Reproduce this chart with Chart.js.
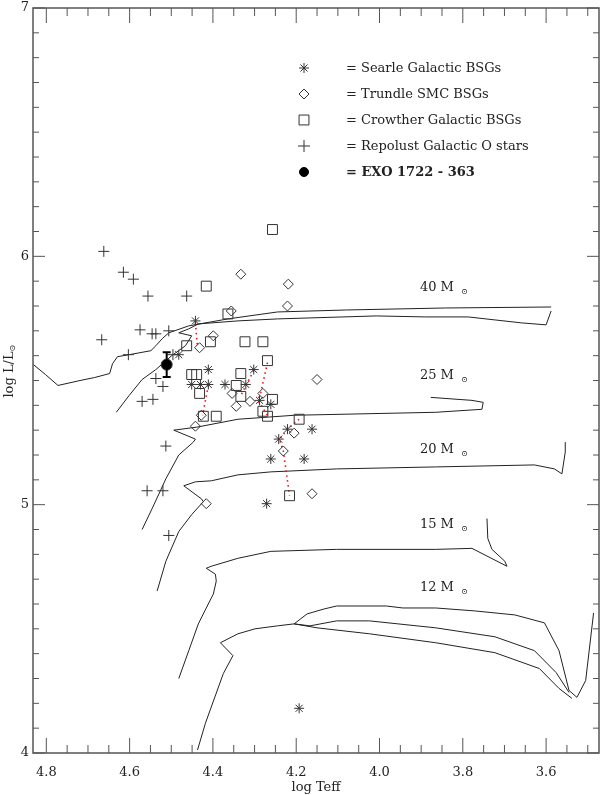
<!DOCTYPE html>
<html>
<head>
<meta charset="utf-8">
<script src="https://cdn.jsdelivr.net/npm/chart.js@4.4.1/dist/chart.umd.min.js"></script>
<style>
  html, body { margin: 0; padding: 0; background: #fff; }
  #wrap { position: relative; width: 607px; height: 795px; }
</style>
</head>
<body>
<div id="wrap"><canvas id="hrd"></canvas></div>
<script>
// evolutionary tracks, x = log Teff, y = log L/Lsun
const trackTopT = [4.831, 4.802, 4.772, 4.719, 4.684, 4.648, 4.641, 4.629, 4.601, 4.549, 4.537, 4.522, 4.506, 4.458, 4.364, 4.245, 4.079, 3.842, 3.588];
const trackTopL = [5.564, 5.524, 5.48, 5.50, 5.512, 5.528, 5.568, 5.596, 5.604, 5.62, 5.64, 5.668, 5.692, 5.72, 5.748, 5.776, 5.784, 5.792, 5.796];
const track40T = [4.632, 4.601, 4.570, 4.537, 4.499, 4.466, 4.451, 4.482, 4.458, 4.435, 4.340, 4.245, 4.008, 3.889, 3.787, 3.723, 3.659, 3.600, 3.588];
const track40L = [5.372, 5.44, 5.504, 5.544, 5.60, 5.64, 5.68, 5.692, 5.708, 5.728, 5.74, 5.748, 5.76, 5.756, 5.756, 5.744, 5.732, 5.724, 5.78];
const track25T = [4.570, 4.546, 4.513, 4.482, 4.447, 4.442, 4.494, 4.439, 4.340, 4.205, 3.865, 3.754, 3.751, 3.778, 3.877];
const track25L = [4.90, 4.984, 5.104, 5.20, 5.252, 5.264, 5.30, 5.312, 5.344, 5.36, 5.372, 5.384, 5.412, 5.42, 5.432];
const track20T = [4.534, 4.513, 4.482, 4.451, 4.423, 4.428, 4.470, 4.442, 4.404, 4.340, 4.261, 4.103, 3.865, 3.628, 3.580, 3.562, 3.554, 3.554];
const track20L = [4.652, 4.772, 4.892, 4.96, 5.012, 5.024, 5.076, 5.092, 5.096, 5.12, 5.132, 5.144, 5.152, 5.16, 5.144, 5.124, 5.212, 5.252];
const track15T = [4.482, 4.458, 4.435, 4.416, 4.399, 4.392, 4.394, 4.416, 4.404, 4.340, 4.261, 4.103, 3.865, 3.778, 3.694, 3.699, 3.730, 3.740, 3.742];
const track15L = [4.30, 4.412, 4.52, 4.584, 4.64, 4.692, 4.72, 4.744, 4.752, 4.784, 4.812, 4.82, 4.82, 4.824, 4.752, 4.772, 4.82, 4.864, 4.944];
const track12T = [4.437, 4.418, 4.375, 4.352, 4.382, 4.340, 4.299, 4.245, 4.205, 4.174, 4.133, 4.103, 3.984, 3.944, 3.865, 3.770, 3.675, 3.604, 3.569, 3.545, 3.526, 3.505, 3.486];
const track12L = [4.012, 4.12, 4.32, 4.392, 4.444, 4.48, 4.50, 4.512, 4.52, 4.56, 4.58, 4.592, 4.592, 4.584, 4.584, 4.572, 4.556, 4.524, 4.412, 4.252, 4.224, 4.292, 4.564];
const track12bT = [4.205, 4.167, 4.103, 4.024, 3.865, 3.723, 3.628, 3.576, 3.545];
const track12bL = [4.52, 4.512, 4.532, 4.532, 4.504, 4.468, 4.412, 4.324, 4.244];
const track12cT = [4.205, 4.150, 4.024, 3.865, 3.723, 3.616, 3.569, 3.538];
const track12cL = [4.52, 4.504, 4.48, 4.444, 4.404, 4.34, 4.26, 4.22];

const massLabels = ['40 M', '25 M', '20 M', '15 M', '12 M'];
const massLabelL = [5.872, 5.52, 5.22, 4.92, 4.664];
const massLabelT = 3.903;

// stars
const searleT = [4.442, 4.482, 4.411, 4.302, 4.451, 4.430, 4.411, 4.371, 4.321, 4.288, 4.261, 4.221, 4.162, 4.242, 4.261, 4.181, 4.271, 4.193];
const searleL = [5.74, 5.604, 5.544, 5.544, 5.484, 5.484, 5.484, 5.484, 5.484, 5.42, 5.404, 5.304, 5.304, 5.264, 5.184, 5.184, 5.004, 4.18];
const trundleT = [4.333, 4.219, 4.221, 4.356, 4.399, 4.432, 4.354, 4.311, 4.344, 4.280, 4.150, 4.428, 4.442, 4.205, 4.231, 4.162, 4.416];
const trundleL = [5.928, 5.888, 5.80, 5.78, 5.68, 5.632, 5.448, 5.416, 5.396, 5.448, 5.504, 5.36, 5.316, 5.288, 5.216, 5.044, 5.004];
const crowtherT = [4.257, 4.416, 4.364, 4.406, 4.463, 4.323, 4.280, 4.269, 4.451, 4.439, 4.333, 4.344, 4.432, 4.333, 4.257, 4.280, 4.269, 4.423, 4.392, 4.193, 4.216];
const crowtherL = [6.108, 5.88, 5.768, 5.656, 5.64, 5.656, 5.656, 5.58, 5.524, 5.524, 5.528, 5.48, 5.448, 5.436, 5.424, 5.376, 5.356, 5.356, 5.356, 5.344, 5.036];
const repolustT = [4.662, 4.615, 4.591, 4.556, 4.463, 4.575, 4.546, 4.537, 4.506, 4.667, 4.603, 4.496, 4.537, 4.520, 4.570, 4.544, 4.513, 4.558, 4.520, 4.506];
const repolustL = [6.02, 5.936, 5.908, 5.84, 5.84, 5.704, 5.688, 5.688, 5.70, 5.664, 5.604, 5.604, 5.508, 5.476, 5.416, 5.424, 5.236, 5.056, 5.056, 4.876];
const exoT = [4.511];
const exoL = [5.564];
const exoErr = 0.05;

// red dotted links between determinations of the same star
const linkT = [[4.442, 4.437], [4.411, 4.425], [4.269, 4.285, 4.292, 4.269], [4.302, 4.333], [4.193, 4.221, 4.240, 4.231, 4.216]];
const linkL = [[5.732, 5.632], [5.48, 5.36], [5.572, 5.452, 5.42, 5.36], [5.54, 5.44], [5.344, 5.304, 5.264, 5.216, 5.036]];

const legendRows = [
  { style: 'star', r: 5, text: '= Searle Galactic BSGs' },
  { style: 'rectRot', r: 5, text: '= Trundle SMC BSGs' },
  { style: 'rect', r: 7, text: '= Crowther Galactic BSGs' },
  { style: 'cross', r: 6, text: '= Repolust Galactic O stars' },
  { style: 'circle', r: 4.5, text: '= EXO 1722 - 363', bold: true },
];

const SERIF = '"DejaVu Serif", "Liberation Serif", serif';
const INK = '#333';
const pts = (t, l) => t.map((v, i) => ({ x: v, y: l[i] }));

const track = (t, l) => ({
  type: 'line', data: pts(t, l), borderColor: '#222', borderWidth: 1,
  pointRadius: 0, fill: false, tension: 0,
});
const link = (t, l) => ({
  type: 'line', data: pts(t, l), borderColor: '#ee1111', borderWidth: 1.6,
  borderDash: [1.5, 3.5], pointRadius: 0, fill: false, tension: 0,
});
const marks = (t, l, style, r, fill) => ({
  type: 'scatter', data: pts(t, l), pointStyle: style, pointRadius: r,
  borderColor: INK, backgroundColor: fill || 'rgba(0,0,0,0)', borderWidth: 1,
});

const decor = {
  id: 'decor',
  afterDatasetsDraw(chart) {
    const { ctx, chartArea: a, scales: { x, y } } = chart;
    ctx.save();

    // error bar on EXO 1722-363
    const ex = x.getPixelForValue(exoT[0]);
    const y1 = y.getPixelForValue(exoL[0] + exoErr);
    const y2 = y.getPixelForValue(exoL[0] - exoErr);
    ctx.strokeStyle = '#000';
    ctx.lineWidth = 2;
    ctx.beginPath();
    ctx.moveTo(ex, y1); ctx.lineTo(ex, y2);
    ctx.moveTo(ex - 4, y1); ctx.lineTo(ex + 4, y1);
    ctx.moveTo(ex - 4, y2); ctx.lineTo(ex + 4, y2);
    ctx.stroke();

    // frame + inward ticks
    ctx.strokeStyle = '#555';
    ctx.lineWidth = 1.5;
    ctx.strokeRect(a.left, a.top, a.right - a.left, a.bottom - a.top);
    ctx.lineWidth = 1;
    ctx.beginPath();
    for (let k = 70; k <= 96; k++) {
      const px = x.getPixelForValue(k / 20);
      const len = k % 4 === 0 ? 15 : 8;
      ctx.moveTo(px, a.bottom); ctx.lineTo(px, a.bottom - len);
      ctx.moveTo(px, a.top); ctx.lineTo(px, a.top + len);
    }
    for (let k = 40; k <= 70; k++) {
      const py = y.getPixelForValue(k / 10);
      const len = k % 10 === 0 ? 12 : 6;
      ctx.moveTo(a.left, py); ctx.lineTo(a.left + len, py);
      ctx.moveTo(a.right, py); ctx.lineTo(a.right - len, py);
    }
    ctx.stroke();

    // tick labels
    ctx.fillStyle = '#222';
    ctx.font = '13px ' + SERIF;
    ctx.textAlign = 'center';
    ctx.textBaseline = 'middle';
    for (let k = 72; k <= 96; k += 4) {
      ctx.fillText((k / 20).toFixed(1), x.getPixelForValue(k / 20), a.bottom + 20);
    }
    ctx.textAlign = 'right';
    for (let k = 4; k <= 7; k++) {
      ctx.fillText(String(k), a.left - 4, y.getPixelForValue(k));
    }
    ctx.textAlign = 'center';
    ctx.fillText('log Teff', (a.left + a.right) / 2, a.bottom + 35);

    // y title, rotated
    ctx.save();
    ctx.translate(10, 371);
    ctx.rotate(-Math.PI / 2);
    const main = 'log L/L';
    const w = ctx.measureText(main).width;
    ctx.textAlign = 'left';
    ctx.fillText(main, -(w + 7) / 2, 0);
    ctx.font = '8px ' + SERIF;
    ctx.fillText('\u2299', -(w + 7) / 2 + w, 3);
    ctx.restore();

    // mass labels
    ctx.textAlign = 'left';
    for (let i = 0; i < massLabels.length; i++) {
      const px = x.getPixelForValue(massLabelT);
      const py = y.getPixelForValue(massLabelL[i]);
      ctx.font = '13px ' + SERIF;
      ctx.fillText(massLabels[i], px, py);
      const mw = ctx.measureText(massLabels[i]).width;
      ctx.font = '8px ' + SERIF;
      ctx.fillText('\u2299', px + mw + 7, py + 4);
    }

    // legend
    legendRows.forEach((row, i) => {
      const ly = 68 + i * 26;
      ctx.strokeStyle = row.style === 'circle' ? '#000' : INK;
      ctx.fillStyle = row.style === 'circle' ? '#000' : 'rgba(0,0,0,0)';
      ctx.lineWidth = 1;
      Chart.helpers.drawPoint(ctx, { pointStyle: row.style, radius: row.r, rotation: 0, borderWidth: 1 }, 304, ly);
      ctx.fillStyle = '#222';
      ctx.font = (row.bold ? 'bold ' : '') + '13px ' + SERIF;
      ctx.textBaseline = 'middle';
      ctx.fillText(row.text, 346, ly + 1);
    });

    ctx.restore();
  },
};

new Chart(document.getElementById('hrd'), {
  type: 'scatter',
  data: {
    datasets: [
      marks(exoT, exoL, 'circle', 5.5, '#000'),
      marks(searleT, searleL, 'star', 5),
      marks(trundleT, trundleL, 'rectRot', 5),
      marks(crowtherT, crowtherL, 'rect', 7),
      marks(repolustT, repolustL, 'cross', 5.5),
      ...linkT.map((t, i) => link(t, linkL[i])),
      track(trackTopT, trackTopL),
      track(track40T, track40L),
      track(track25T, track25L),
      track(track20T, track20L),
      track(track15T, track15L),
      track(track12T, track12L),
      track(track12bT, track12bL),
      track(track12cT, track12cL),
    ],
  },
  options: {
    responsive: true,
    maintainAspectRatio: false,
    animation: false,
    events: [],
    layout: { padding: { left: 33, right: 2, top: 3, bottom: 42 } },
    plugins: { legend: { display: false }, tooltip: { enabled: false } },
    scales: {
      x: { type: 'linear', min: 3.473, max: 4.832, reverse: true, display: false },
      y: { type: 'linear', min: 4, max: 7, display: false },
    },
  },
  plugins: [decor],
});
</script>
</body>
</html>
